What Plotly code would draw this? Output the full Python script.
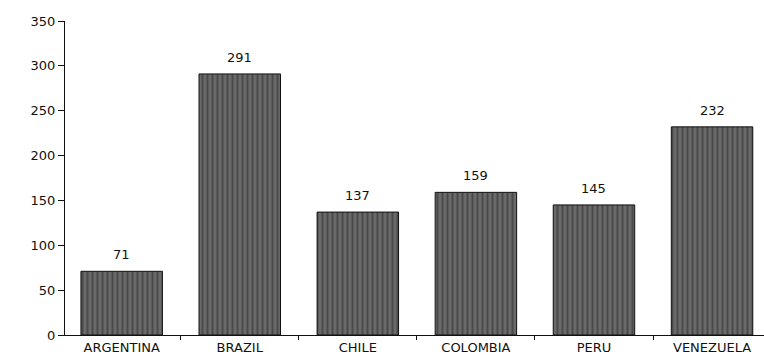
import plotly.graph_objects as go

countries = ["ARGENTINA", "BRAZIL", "CHILE", "COLOMBIA", "PERU", "VENEZUELA"]
values = [71, 291, 137, 159, 145, 232]
y_ticks = [0, 50, 100, 150, 200, 250, 300, 350]

FONT = "DejaVu Sans, Liberation Sans, Arial"

fig = go.Figure(go.Bar(
    x=countries, y=values,
    cliponaxis=False,
    marker=dict(color="#6a6a6a",
                line=dict(color="#111", width=1),
                pattern=dict(shape="|", fgcolor="#2a2a2a", size=5, solidity=0.4)),
))
for c, v in zip(countries, values):
    fig.add_annotation(x=c, y=v, text=str(v), showarrow=False, yanchor="bottom",
                       yshift=7, font=dict(family=FONT, size=13, color="#111"))
fig.update_layout(
    width=764, height=362,
    margin=dict(l=65, r=0, t=21, b=27),
    paper_bgcolor="white", plot_bgcolor="white",
    bargap=0.31, showlegend=False,
    font=dict(family=FONT, size=13, color="#111"),
)
fig.update_xaxes(range=[-0.48, 5.44], showline=True, linecolor="#111", linewidth=1,
                 ticks="outside", tickson="boundaries", ticklen=4, tickcolor="#111",
                 showgrid=False, tickfont=dict(size=13), automargin=False)
fig.update_yaxes(range=[0, 350], tickvals=y_ticks, showline=True, linecolor="#111",
                 linewidth=1, ticks="outside", ticklen=6, tickcolor="#111",
                 showgrid=False, zeroline=False, tickfont=dict(size=13), automargin=False)
fig.write_html("out.html", config={"displayModeBar": False},
               post_script="document.body.style.margin='0';document.body.style.overflow='hidden';")
